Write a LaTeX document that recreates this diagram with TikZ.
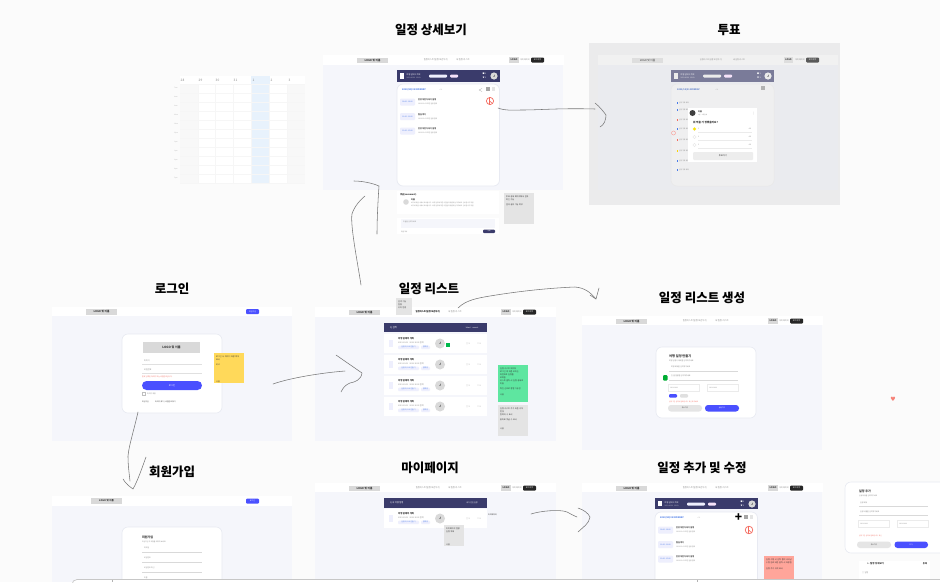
\documentclass[tikz,border=0pt]{standalone}
\usepackage{fontspec}
\setmainfont{Noto Sans CJK KR}
\newfontfamily\symfont{DejaVu Sans}
\definecolor{pagebg}{HTML}{FBFBFB}
\definecolor{framebg}{HTML}{F5F6FB}
\definecolor{navy}{HTML}{3A3B6B}
\definecolor{royal}{HTML}{4A50FF}
\definecolor{greybox}{HTML}{D9D9D9}
\definecolor{lav}{HTML}{EEEFFD}
\definecolor{ink}{HTML}{333333}
\definecolor{mute}{HTML}{888888}
\definecolor{edge}{HTML}{E8EAF2}
\definecolor{blueday}{HTML}{4A7BE8}
\definecolor{redsoft}{HTML}{F46A5E}
\definecolor{pinktag}{HTML}{F6E3FA}
\definecolor{stroke}{HTML}{777777}
\definecolor{stickygrey}{HTML}{E4E4E4}
\definecolor{stickyyellow}{HTML}{FFD95A}
\definecolor{stickygreen}{HTML}{5EE6A0}
\definecolor{stickyred}{HTML}{FFA59A}
\definecolor{voteouter}{HTML}{EBEBEC}
\definecolor{votebody}{HTML}{EAEBEF}
\definecolor{votehead}{HTML}{F1F1F1}
\definecolor{votecard}{HTML}{EFEFF0}
\definecolor{votebar}{HTML}{7A7B99}
\definecolor{calgrey}{HTML}{F8F8F8}
\definecolor{calblue}{HTML}{E8F2FC}
\definecolor{calline}{HTML}{F6F6F6}
\newcounter{tn}
\newcommand\tx[5][ink]{\stepcounter{tn}\node[name=t\arabic{tn},inner sep=0pt,text=#1,font=\fontsize{#4}{#4}\selectfont] at (#2,#3) {#5};}
\newcommand\txl[5][ink]{\stepcounter{tn}\node[name=t\arabic{tn},anchor=west,inner sep=0pt,text=#1,font=\fontsize{#4}{#4}\selectfont] at (#2,#3) {#5};}
\newcommand\boxr[5]{\fill[#1] (#2,#3) rectangle (#4,#5);}
\newcommand\rbox[5]{\fill[#1,rounded corners=1pt] (#2,#3) rectangle (#4,#5);}
\newcommand\card[4]{\fill[white,draw=edge,line width=.6pt,rounded corners=6pt] (#1,#2) rectangle (#3,#4);}
\newcommand\hdr[1]{%
 \boxr{white}{0}{0}{240.5}{#1}
 \boxr{greybox}{34}{2.5}{65}{8}\tx{49.5}{5.2}{2.6}{\textbf{LOGO 및 이름}}
 \tx[mute]{113}{5}{2.2}{일정리스트(일정 보관하기)}\tx[mute]{140}{5}{2.2}{새 일정 리스트}
 \boxr{greybox}{186}{2}{196}{7.5}\tx{191}{4.8}{2.4}{\textbf{LOGO}}\tx[mute]{202}{4.8}{2}{마이페이지}
 \rbox{black!85}{208}{2.5}{221}{7.5}\tx[white]{214.5}{5}{2}{로그아웃}}
\newcommand\rowitem[1]{%
 \begin{scope}[shift={(384,#1)}]
 \boxr{white}{0}{0}{103}{19}
 \boxr{lav}{4.5}{6}{9}{12.5}
 \txl{14}{4.5}{2.3}{\textbf{여행 갈때의 계획}}\txl[mute]{14}{8.5}{2}{2023.10.01 ~ 2023.10.03 참여}
 \rbox{lav}{14}{11.5}{35}{15}\rbox{lav}{37}{11.5}{46}{15}
 \tx[blueday]{24.5}{13.2}{1.8}{일정 리스트 만들기}\tx[blueday]{41.5}{13.2}{1.8}{참여중}
 \fill[greybox] (56,9.5) circle (5);\tx{56}{9.5}{3}{\textbf{J}}
 \tx[mute]{84}{9.5}{2}{□ 3}\tx[mute]{95}{9.5}{2}{♡ 2}
 \end{scope}}
\newcommand\dbar[2]{%
 \boxr{#1}{0}{0}{102.5}{#2}
 \boxr{white}{3}{3}{7}{#2-3}
 \txl[white]{9.5}{4.5}{2}{여행 갈때의 계획}\txl[white!80!#1]{9.5}{8}{1.7}{2023.10.01 ~ 10.03}
 \rbox{lav}{32}{4.5}{50}{7.5}\rbox{pinktag}{53}{4.5}{61}{7.5}
 \tx[white]{87.5}{3.5}{2}{■ 1}\tx[white]{87.5}{8}{2}{♥ 1}
 \fill[white!85!black] (97,6) circle (3.6);\tx{97}{6}{3}{\textbf{J}}}
\newcommand\ditem[3]{%
 \rbox{lav}{3}{#1-3}{18}{#1+4}\tx[blueday]{10.5}{#1+.5}{1.8}{#2}
 \txl{21}{#1-1.5}{2}{\textbf{#3}}\txl[mute]{21}{#1+2.8}{1.7}{2023.10.01 오전 일정 참여}}
\newcommand\dcard[1]{%
 \fill[white,draw=edge,line width=.7pt,rounded corners=6pt] (0,0) rectangle (102.5,#1);
 \txl[blueday]{5}{5.5}{2.3}{\textbf{2023/10/31 MONDAY}}\tx[mute]{44}{5.5}{2}{< >}
 \fill[gray!70] (89,2.5) rectangle (92.5,6.5);\fill[gray!20] (94.5,3) rectangle (98,6.5);
 \ditem{17.5}{09:00 - 10:00}{한강 자전거 타기 일정}
 \ditem{32}{11:00 - 12:00}{점심 먹기}
 \ditem{46.5}{13:00 - 15:00}{한강 자전거 타기 일정}}
\newcommand\sticky[6]{%
 \fill[#1] (#2,#3) rectangle (#4,#5);
 \stepcounter{tn}\node[name=t\arabic{tn},anchor=north west,inner sep=0pt,text width=#4pt-#2pt-4pt,align=left,text=ink,font=\fontsize{2}{3}\selectfont] at (#2+2,#3+2.5) {#6};}
\newcommand\stampmark[3]{\draw[redsoft,line width=.7pt,fill=white] (#1,#2) circle (#3);
 \draw[redsoft,line width=.6pt] (#1-.5,#2-#3) -- (#1-.5,#2+#3) (#1-.5,#2) -- (#1+#3*.7,#2+#3*.7);}
\tikzset{hand/.style={draw=stroke,line width=.55pt,line cap=round,line join=round},
 title/.style={inner sep=0pt,text=black,font=\fontsize{12.5}{12.5}\selectfont\bfseries}}
\begin{document}
\begin{tikzpicture}[x=1pt,y=-1pt]
\useasboundingbox (0,0) rectangle (940,582);
\fill[pagebg] (0,0) rectangle (940,582);
% titles
\node[title] (tDetail) at (431,30) {일정 상세보기};
\node[title] (tVote) at (729,30) {투표};
\node[title] (tLogin) at (172,289) {로그인};
\node[title] (tList) at (429,289) {일정 리스트};
\node[title] (tCreate) at (702,298) {일정 리스트 생성};
\node[title] (tJoin) at (172,472) {회원가입};
\node[title] (tMy) at (430,468) {마이페이지};
\node[title] (tAdd) at (702,468) {일정 추가 및 수정};
% calendar
\begin{scope}[shift={(180,76)}]
 \fill[white] (0,0) rectangle (125,107);
 \fill[calgrey] (0,8) rectangle (18,107);
 \fill[calgrey] (107,8) rectangle (125,107);
 \fill[calblue] (71,0) rectangle (89.5,107);
 \foreach \cx/\lab in {2/28,20/29,37/30,55/31,73/1,91/2,109/3}{\tx[mute]{\cx+.5}{4.5}{3.2}{\lab}}
 \foreach \ry in {8,17,26,35,44,53,62,71,80,89,98,107}{\draw[calline,line width=.3pt] (0,\ry) -- (125,\ry);}
 \foreach \cl in {18,35.5,53.5,71,89.5,107}{\draw[calline,line width=.3pt] (\cl,8) -- (\cl,107);}
 \foreach \ry/\lab in {12/7am,21/8am,30/9am,39/10am,48/11am,57/12pm,66/1pm,75/2pm,84/3pm,93/4pm,102/5pm}{\tx[black!30]{-4}{\ry}{1.6}{\lab}}
\end{scope}
% detail frame
\begin{scope}[shift={(323,55)}]
 \boxr{framebg}{0}{0}{240}{135}
 \hdr{10}
 \begin{scope}[shift={(74,15)}]\dbar{navy}{12}\end{scope}
 \begin{scope}[shift={(74,29)}]\dcard{102}\end{scope}
\end{scope}
\stampmark{490}{101}{3.6}
\draw[gray!60,line width=.35pt] (479,90) -- (482,88.5) (479,90) -- (482,91.5);
\begin{scope}[shift={(397,191)}]
 \boxr{white}{0}{0}{102}{23}
 \txl{3}{3.5}{2.2}{\textbf{댓글(comment)}}
 \fill[greybox] (9,11) circle (2.8);
 \txl{14}{8.5}{2}{\textbf{이름}}
 \txl[mute]{14}{12}{1.6}{여기에 댓글 내용이 표시됩니다. 여행 일정에 대한 의견을 자유롭게 남겨주세요. 감사합니다 정말}
 \txl[mute]{14}{15}{1.6}{여기에 댓글 내용이 표시됩니다. 여행 일정에 대한 의견을 자유롭게 남겨주세요. 감사합니다 정말}
 \boxr{white}{0}{27}{102}{43}
 \boxr{framebg}{4}{28}{98}{37}
 \txl[mute]{6}{31}{1.7}{댓글을 입력하세요}
 \txl[mute]{4}{40.5}{1.6}{댓글 작성}
 \rbox{navy}{86}{38.5}{98}{42}\tx[white]{92}{40.3}{1.6}{등록}
\end{scope}
\sticky{stickygrey}{504}{193}{534}{224}{투표 상세 페이지에서 결과 확인 가능\\[2pt]결과 공유 가능 여부}
% vote frame
\fill[voteouter] (589,43) rectangle (840,205);
\begin{scope}[shift={(598,55)}]
 \boxr{votebody}{0}{0}{240}{135}
 \boxr{votehead}{0}{0}{240}{10}
 \boxr{black!13}{34}{2.5}{65}{8}\tx[ink]{49.5}{5.2}{2.6}{LOGO 및 이름}
 \tx[mute]{113}{5}{2}{일정리스트(일정 보관하기)}\tx[mute]{141}{5}{2}{새 일정 리스트}
 \boxr{black!13}{186}{2}{195}{7.5}\tx{190.5}{4.8}{2.2}{\textbf{LOGO}}\tx[mute]{202}{4.8}{2}{마이페이지}
 \rbox{black!65}{208}{2.5}{221}{7.5}\tx[white]{214.5}{5}{2}{로그아웃}
 \begin{scope}[shift={(73,15)}]
  \boxr{votebar}{0}{0}{103}{12}
  \boxr{black!8}{3}{3}{7}{9}
  \txl[white]{9.5}{4.5}{2}{여행 갈때의 계획}\txl[white]{9.5}{8}{1.7}{2023.10.01 ~ 10.03}
  \rbox{black!8}{32}{4.5}{50}{7.5}\rbox{pinktag}{53}{4.5}{61}{7.5}
  \tx[white]{88}{3.5}{2}{■ 1}\tx[white]{88}{8}{2}{♥ 1}
  \fill[black!8] (97,6) circle (3.6);\tx{97}{6}{3}{\textbf{J}}
 \end{scope}
 \fill[votecard,draw=black!9,line width=.5pt,rounded corners=6pt] (73,29) rectangle (176,131);
 \txl[blueday!70!gray]{79}{34.5}{2.2}{\textbf{2023/10/31 MONDAY}}\tx[mute]{119}{34.5}{2}{< >}
 \fill[gray!60] (163,30.5) rectangle (166.5,34.5);
 \foreach \iy/\ic in {48/blueday,55/blueday,65/redsoft,74/blueday,85/redsoft,96/yellow!70!orange,106/blueday,115/blueday}{\fill[\ic] (79,\iy-.6) rectangle (80,\iy+.6);\txl[mute]{81}{\iy}{1.6}{일정 항목 제목}}
\end{scope}
\fill[white] (688,108) rectangle (757,162);
\fill[black!75] (692.5,113) circle (3);
\txl{698}{111.8}{2}{\textbf{이름}}\txl[mute]{698}{115}{1.5}{3분 · 3명 참여}
\tx[mute]{753.5}{113.5}{3}{\symfont ⋮}
\txl{693}{123}{2.6}{\textbf{뭐 먹을 거 정했을까요?}}
\foreach \vy/\vt in {129.5/1,137.5/2,145.5/3}{
 \draw[black!8,line width=.4pt] (698,\vy+2.5) -- (752,\vy+2.5);
 \txl[mute]{698}{\vy-.5}{1.8}{\vt}\tx[mute]{750}{\vy-.5}{1.6}{0표}
 \draw[black!10,line width=.3pt] (694.5,\vy-.5) circle (1.6);}
\fill[yellow!90!orange] (694.5,129) circle (1.6);
\rbox{black!7}{693}{152}{753}{160}\tx[ink]{723}{156}{2.2}{투표하기}
\draw[redsoft!60,line width=.5pt] (673.5,133) circle (2);
% login frame
\begin{scope}[shift={(52,307)}]
 \boxr{framebg}{0}{0}{240}{134}
 \boxr{white}{0}{0}{240}{9}
 \boxr{greybox}{34}{2}{65}{8}\tx{49.5}{5}{2.6}{\textbf{LOGO 및 이름}}
 \rbox{royal}{194}{2.2}{207}{7}\tx[white]{200.5}{4.7}{1.9}{회원가입}
 \card{70}{27}{170}{106}
 \boxr{greybox}{91}{35}{148}{46}\tx{119.5}{40.5}{3}{\textbf{LOGO 및 이름}}
 \txl[mute]{92}{54}{2}{아이디}\draw[black!12,line width=.5pt] (90,57) -- (150,57);
 \txl[mute]{92}{63}{2}{비밀번호}\draw[black!12,line width=.5pt] (90,66) -- (150,66);
 \txl[redsoft]{90}{69.5}{1.8}{잘못 입력된 아이디 또는 비밀번호입니다.}
 \fill[royal,rounded corners=4.5pt] (90,74) rectangle (150,83);\tx[white]{120}{78.5}{2.2}{로그인}
 \draw[black!25,line width=.35pt] (90.5,85.5) rectangle (93.5,88.5);\txl[mute]{95}{87}{1.8}{아이디 저장}
 \txl{90}{95}{1.8}{회원가입}\txl{103}{95}{1.8}{아이디 찾기 / 비밀번호 찾기}
\end{scope}
\sticky{stickyyellow}{214}{353}{244}{383}{로그인 시 아이디 저장 여부 표시\\[2pt]비고\\[14pt]나중}
% list frame
\begin{scope}[shift={(315,307)}]
 \boxr{framebg}{0}{0}{241}{134}\hdr{10}
 \boxr{navy}{69}{16}{172}{25}
 \txl[white]{75}{20.5}{2.4}{Q 검색}\tx[white]{157}{20.5}{1.9}{latest · recent}
\end{scope}
\rowitem{334}\rowitem{355}\rowitem{376}\rowitem{397}
\tx{428}{312}{2.2}{\textbf{일정리스트(일정 보관하기)}}
\fill[green!60!black!70!cyan] (446,343) rectangle (450,346.5);
\sticky{stickygrey}{396}{298}{412}{315}{검색 기능 설명\\위치 변경}
\sticky{stickygreen}{498}{365}{528}{402}{일정 리스트 페이지\\로그인 후 처음 보이는 화면으로 일정을\\보여줌\\리스트 클릭 시 일정 상세로 이동\\[2pt]최신 순으로 정렬 가능함\\[3pt]나중}
\sticky{stickygrey}{498}{405}{528}{436}{일정 리스트 추가 버튼 위치 변경\\참여자 수 표시\\[2pt]좋아요 댓글 수 표시\\[6pt]나중}
% create frame
\begin{scope}[shift={(582,316)}]
 \boxr{framebg}{0}{0}{240}{134}\hdr{9}
 \card{74}{31}{174}{102}
 \txl{87}{40}{3.2}{\textbf{여행 일정 만들기}}\txl[mute]{87}{45}{1.8}{여행 일정의 제목을 입력해주세요}
 \txl[mute]{89}{51}{1.8}{여행 제목을 입력해주세요}\draw[black!15,line width=.5pt] (87,55) -- (156,55);
 \txl[mute]{89}{60}{1.8}{한 줄 설명을 입력해주세요}\draw[black!15,line width=.5pt] (87,64) -- (156,64);
 \draw[black!8,line width=.3pt] (86,68) rectangle (117,75);\draw[black!8,line width=.3pt] (125,68) rectangle (156,75);
 \txl[mute]{88}{71.5}{1.6}{2023.10.01}\txl[mute]{127}{71.5}{1.6}{2023.10.03}
 \rbox{royal}{87}{78}{95}{81.5}\rbox{black!12}{98}{78}{106}{81.5}
 \txl[redsoft]{87}{85.5}{1.6}{일정 기간 입력이 필요합니다. 확인해 주세요}
 \fill[black!10,rounded corners=3pt] (86,89) rectangle (120,95.5);\tx{103}{92.3}{1.7}{취소하기}
 \fill[royal,rounded corners=3pt] (123,89) rectangle (157,95.5);\tx[white]{140}{92.3}{1.7}{생성하기}
 \fill[green!60!black!80!cyan,rounded corners=1pt] (81,59) rectangle (85.5,64.5);
\end{scope}
\node[inner sep=0pt,text=redsoft!85!white,font=\fontsize{6}{6}\selectfont\symfont] (heartMark) at (893,399) {♥};
% signup frame
\begin{scope}[shift={(52,496)}]
 \boxr{framebg}{0}{0}{240}{86}
 \boxr{white}{0}{0}{240}{10}
 \boxr{greybox}{39}{2}{70}{8}\tx{54.5}{5}{2.4}{\textbf{LOGO 및 이름}}
 \rbox{royal}{194}{2.5}{207}{7.5}\tx[white]{200.5}{5}{1.9}{로그인}
 \fill[white,draw=edge,line width=.6pt,rounded corners=6pt] (70,31) rectangle (170,95);
 \txl{90}{41}{3}{\textbf{회원가입}}\txl[mute]{90}{45.5}{1.7}{회원가입 후 여행을 계획해 보세요}
 \txl[mute]{92}{52}{1.8}{이메일}\draw[black!15,line width=.5pt] (90,56) -- (150,56);
 \txl[mute]{92}{62}{1.8}{비밀번호}\draw[black!15,line width=.5pt] (90,66) -- (150,66);
 \txl[mute]{92}{72}{1.8}{비밀번호 확인}\draw[black!15,line width=.5pt] (90,76) -- (150,76);
 \txl[mute]{92}{82}{1.8}{이름}
\end{scope}
% mypage frame
\begin{scope}[shift={(315,483)}]
 \boxr{framebg}{0}{0}{241}{99}\hdr{9}
 \boxr{navy}{69}{15}{172}{24.5}
 \txl[white]{75}{19.5}{2.2}{Q 내 여행 일정}\tx[white]{157}{19.5}{1.9}{내가 만든 일정}
\end{scope}
\rowitem{509}
\txl[ink]{488}{515}{1.9}{마이페이지}
\sticky{stickygrey}{444}{525}{464}{546}{마이페이지 설명\\일정 목록\\[10pt]나중}
% add frame
\begin{scope}[shift={(582,483)}]
 \boxr{framebg}{0}{0}{240}{99}\hdr{9}
 \begin{scope}[shift={(73,15)}]\dbar{navy}{11}\end{scope}
 \begin{scope}[shift={(73,29)}]\dcard{90}\end{scope}
\end{scope}
\stampmark{749}{530}{3.8}
\node[inner sep=0pt,text=black,font=\fontsize{12}{12}\selectfont\bfseries] (plusMark) at (738.5,517.5) {+};
\sticky{stickyred}{764}{556}{794}{582}{일정 수정 시 입력 폼이 나타남\\수정 완료 버튼 클릭 시 저장됨\\[3pt]일정 추가 위치 표시}
% right-hand add card
\fill[white,draw=edge,line width=.6pt,rounded corners=6pt] (845,482) rectangle (950,553);
\txl{859}{491}{3}{\textbf{일정 추가}}\txl[mute]{859}{496}{1.7}{일정 내용을 입력해주세요}
\txl[mute]{860}{503}{1.8}{일정 제목}\draw[black!15,line width=.5pt] (859,506.5) -- (928,506.5);
\txl[mute]{860}{512}{1.8}{일정 내용을 입력해주세요}\draw[black!15,line width=.5pt] (859,515.5) -- (928,515.5);
\draw[black!8,line width=.3pt] (858,520) rectangle (889,527);\draw[black!8,line width=.3pt] (897,520) rectangle (928,527);
\txl[mute]{860}{523.5}{1.6}{2023.10.01}\txl[mute]{899}{523.5}{1.6}{2023.10.03}
\txl[redsoft]{859}{536}{1.6}{일정 기간 입력이 필요합니다. 확인}
\fill[black!10,rounded corners=3pt] (857,541.5) rectangle (891,548);\tx{874}{544.8}{1.7}{취소하기}
\fill[royal,rounded corners=3pt] (894.5,541.5) rectangle (928,548);\tx[white]{911}{544.8}{1.7}{추가}
\boxr{white}{859}{561}{930}{582}
\txl{867}{564}{2.4}{\textbf{← 일정 상세보기}}\tx{925}{564}{2.2}{\textbf{등록}}
\txl[mute]{862}{572.5}{2}{□ 일정}
% bottom bar
\fill[white,draw=black!22,line width=.7pt,rounded corners=5pt] (72,579.5) rectangle (960,600);
\draw[black!30,line width=.4pt] (112,579.5) -- (112,582) (697,579.5) -- (697,582);
% hand-drawn connectors
\coordinate (a1s) at (498,108);\coordinate (a1e) at (606,115);
\draw[hand] (a1s) .. controls (506,111) and (512,110) .. (522,110) .. controls (540,110) and (560,108) .. (595,109);
\draw[hand] (595,103) .. controls (600,107) and (603,111) .. (a1e) .. controls (606,120) and (604,125) .. (600,127);
\coordinate (a2s) at (361,285);\coordinate (a2e) at (379,186);
\draw[hand] (a2s) .. controls (358,265) and (350,225) .. (352,214) .. controls (354,207) and (360,200) .. (365,196);
\draw[hand] (354,181) .. controls (362,181) and (372,183) .. (a2e) .. controls (378,200) and (377,220) .. (377,234);
\coordinate (a3s) at (273,384);\coordinate (a3e) at (362,373);
\draw[hand] (a3s) .. controls (290,378) and (320,373) .. (345,371);
\draw[hand] (336,355) -- (a3e) .. controls (361,380) and (355,382) .. (350,383) .. controls (345,385) and (343,388) .. (341,392);
\coordinate (a4s) at (138,412);\coordinate (a4e) at (133,489);
\draw[hand] (a4s) .. controls (134,430) and (129,445) .. (128,456) .. controls (128,465) and (129,472) .. (130,481);
\draw[hand] (123,479) .. controls (126,484) and (129,486) .. (a4e) .. controls (138,480) and (142,468) .. (146,457);
\coordinate (a5s) at (458,308);\coordinate (a5e) at (596,299);
\draw[hand] (a5s) .. controls (466,300) and (478,298) .. (490,296) .. controls (520,291) and (550,288) .. (575,287) .. controls (585,288) and (590,292) .. (a5e);
\draw[hand] (599,288) -- (a5e) -- (590,295);
\coordinate (a6s) at (531,514);\coordinate (a6e) at (590,517);
\draw[hand] (a6s) .. controls (540,511) and (560,509) .. (567,512) .. controls (571,514) and (574,516) .. (577,517);
\draw[hand] (578,508) .. controls (584,510) and (588,513) .. (a6e) .. controls (589,524) and (583,527) .. (578,532);
\end{tikzpicture}
\end{document}
